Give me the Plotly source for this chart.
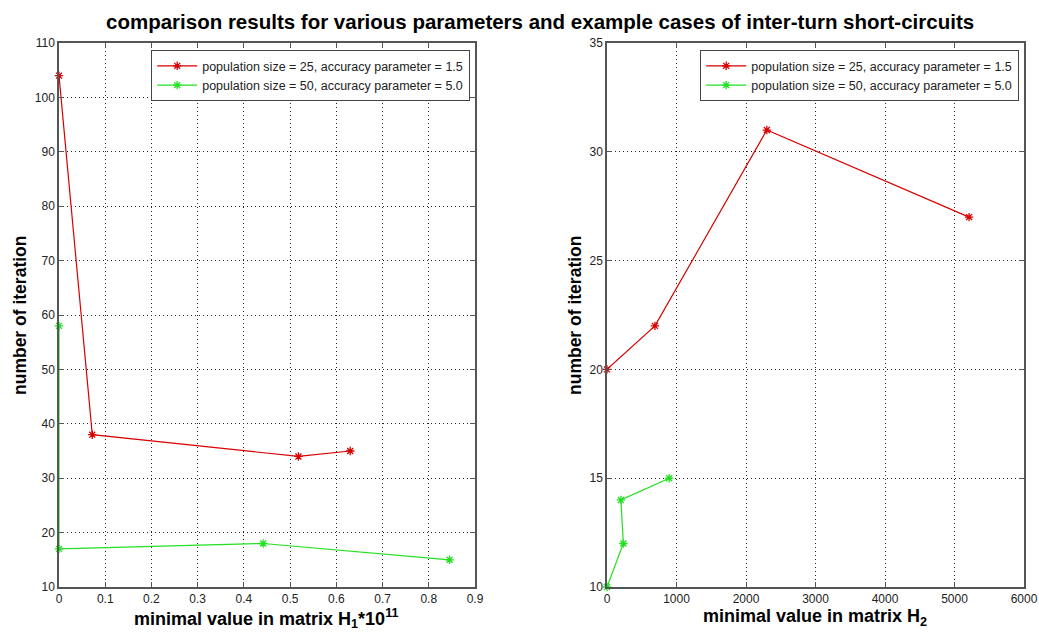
import plotly.graph_objects as go

# ---- data ----
left_red_x = [0.0, 0.072, 0.518, 0.63]
left_red_y = [104, 38, 34, 35]
left_green_x = [0.0, 0.0, 0.4416, 0.845]
left_green_y = [58, 17, 18, 15]

right_red_x = [0, 690, 2300, 5210]
right_red_y = [20, 22, 31, 27]
right_green_x = [0, 235, 200, 895]
right_green_y = [10, 12, 14, 15]

name_red = "population size = 25, accuracy parameter = 1.5"
name_green = "population size = 50, accuracy parameter = 5.0"

left_xticks = [0, 0.1, 0.2, 0.3, 0.4, 0.5, 0.6, 0.7, 0.8, 0.9]
left_yticks = [10, 20, 30, 40, 50, 60, 70, 80, 90, 100, 110]
right_xticks = [0, 1000, 2000, 3000, 4000, 5000, 6000]
right_yticks = [10, 15, 20, 25, 30, 35]

RED = "#d80000"
GREEN = "#22e022"
W, H = 1039, 634

fig = go.Figure()

def add(x, y, name, color, xa, ya, legend):
    fig.add_trace(go.Scatter(
        x=x, y=y, name=name, mode="lines+markers",
        line=dict(color=color, width=1.2),
        marker=dict(symbol="asterisk-open", size=7, color=color, line=dict(color=color, width=1.3)),
        xaxis=xa, yaxis=ya, legend=legend, cliponaxis=False))

add(left_red_x, left_red_y, name_red, RED, "x", "y", "legend")
add(left_green_x, left_green_y, name_green, GREEN, "x", "y", "legend")
add(right_red_x, right_red_y, name_red, RED, "x2", "y2", "legend2")
add(right_green_x, right_green_y, name_green, GREEN, "x2", "y2", "legend2")

tickfont = dict(family="Liberation Sans, Arial, sans-serif", size=12, color="#222")
common = dict(showline=True, linecolor="#555", linewidth=1.5, mirror="allticks",
              ticks="inside", ticklen=5, tickcolor="#555", showgrid=True,
              gridcolor="#222", griddash="1px,3px", gridwidth=1, zeroline=False,
              tickfont=tickfont, layer="above traces", automargin=False)

y0 = 1 - 587 / H
y1 = 1 - 43 / H

legend_common = dict(xanchor="right", yanchor="top", bgcolor="white", bordercolor="#444",
                     borderwidth=1.2, font=dict(size=12.5, color="#222"),
                     tracegroupgap=0, itemwidth=40)

fig.update_layout(
    width=W, height=H,
    margin=dict(l=0, r=0, t=0, b=0),
    paper_bgcolor="white", plot_bgcolor="white",
    font=dict(family="Liberation Sans, Arial, sans-serif", color="#000"),
    xaxis=dict(domain=[59 / W, 475 / W], range=[0, 0.9], tickvals=left_xticks,
               ticktext=[f"{v:g}" for v in left_xticks], anchor="y", **common),
    yaxis=dict(domain=[y0, y1], range=[10, 110], tickvals=left_yticks, anchor="x", **common),
    xaxis2=dict(domain=[607 / W, 1024 / W], range=[0, 6000], tickvals=right_xticks, anchor="y2", **common),
    yaxis2=dict(domain=[y0, y1], range=[10, 35], tickvals=right_yticks, anchor="x2", **common),
    legend=dict(x=470 / W, y=1 - 50 / H, **legend_common),
    legend2=dict(x=1019 / W, y=1 - 50 / H, **legend_common),
    showlegend=True,
)

fig.add_annotation(text="<b>comparison results for various parameters and example cases of inter-turn short-circuits</b>",
                   x=540 / W, y=1 - 21 / H, xref="paper", yref="paper", showarrow=False,
                   font=dict(size=20.5, color="#000"), xanchor="center", yanchor="middle")
fig.add_annotation(text="<b>minimal value in matrix H<sub>1</sub>*10<sup>11</sup></b>",
                   x=266 / W, y=1 - 618 / H, xref="paper", yref="paper", showarrow=False,
                   font=dict(size=18, color="#000"), xanchor="center", yanchor="middle")
fig.add_annotation(text="<b>minimal value in matrix H<sub>2</sub></b>",
                   x=815 / W, y=1 - 617 / H, xref="paper", yref="paper", showarrow=False,
                   font=dict(size=18, color="#000"), xanchor="center", yanchor="middle")
fig.add_annotation(text="<b>number of iteration</b>", textangle=-90,
                   x=20 / W, y=1 - 316 / H, xref="paper", yref="paper", showarrow=False,
                   font=dict(size=17.5, color="#000"), xanchor="center", yanchor="middle")
fig.add_annotation(text="<b>number of iteration</b>", textangle=-90,
                   x=575 / W, y=1 - 316 / H, xref="paper", yref="paper", showarrow=False,
                   font=dict(size=17.5, color="#000"), xanchor="center", yanchor="middle")

fig.write_html("out.html", config={"displayModeBar": False},
               post_script="document.body.style.margin='0px';")
